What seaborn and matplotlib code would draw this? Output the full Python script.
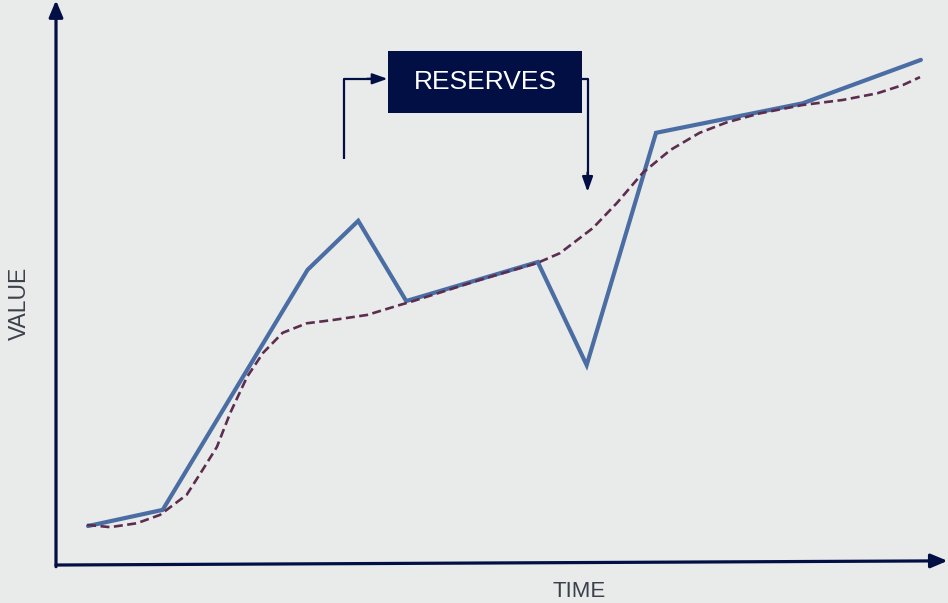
import matplotlib
matplotlib.use("Agg")
import matplotlib.pyplot as plt
import seaborn as sns
import pandas as pd
from matplotlib.patches import Rectangle

# Actual series: time and value readings
actual_time = [3.6, 12.0, 28.3, 34.0, 39.4, 54.2, 59.7, 67.5, 84.0, 97.3]
actual_value = [7.0, 9.9, 53.0, 61.8, 47.4, 54.4, 35.9, 77.6, 82.9, 90.7]

# Smoothed trend
trend_time = [3.5, 6.1, 9.1, 11.7, 14.7, 16.5, 18.1, 19.6, 21.5, 23.3, 25.5, 28.2,
              31.2, 35.0, 38.7, 40.2, 47.7, 54.1, 56.7, 60.4, 63.1, 66.0, 69.1,
              72.4, 75.5, 79.2, 84.0, 88.5, 92.4, 95.3, 97.2]
trend_value = [7.2, 6.8, 7.5, 9.0, 12.6, 17.1, 21.2, 27.3, 33.8, 38.1, 41.7, 43.4,
               44.0, 44.9, 46.7, 47.4, 51.2, 54.2, 56.0, 60.5, 65.0, 70.4, 74.5,
               77.6, 79.5, 81.1, 82.6, 83.5, 84.7, 86.2, 87.6]

x_label = "TIME"
y_label = "VALUE"
box_label = "RESERVES"

BG = "#e9eaea"
NAVY = "#020f45"
BLUE = "#4a6ea4"
PLUM = "#5c2d4f"
TEXT = "#3b414b"

sns.set_style("white", {"axes.facecolor": BG, "figure.facecolor": BG})
plt.rcParams["font.family"] = ["Liberation Sans", "DejaVu Sans"]

fig = plt.figure(figsize=(9.48, 6.03), dpi=100)
ax = fig.add_axes([0, 0, 1, 1])
ax.set_facecolor(BG)

actual = pd.DataFrame({"time": actual_time, "value": actual_value})
trend = pd.DataFrame({"time": trend_time, "value": trend_value})

sns.lineplot(data=trend, x="time", y="value", ax=ax, color=PLUM, lw=1.9,
             dashes=False, linestyle=(0, (3.4, 1.7)), sort=False, zorder=3)
sns.lineplot(data=actual, x="time", y="value", ax=ax, color=BLUE, lw=3.0,
             sort=False, zorder=2, solid_joinstyle="miter")

ax.set_xlim(-6.3, 100.35)
ax.set_ylim(-6.82, 101.45)
for s in ax.spines.values():
    s.set_visible(False)
ax.set_xticks([])
ax.set_yticks([])
ax.set_xlabel("")
ax.set_ylabel("")

# Axes drawn as arrows
arrow_kw = dict(arrowstyle="-|>,head_length=1.0,head_width=0.42", color=NAVY,
                lw=2.3, shrinkA=0, shrinkB=0)
ax.annotate("", xy=(0, 101.4), xytext=(0, -0.3), arrowprops=arrow_kw, zorder=4)
ax.annotate("", xy=(100.3, 0.75), xytext=(0, 0.0), arrowprops=arrow_kw, zorder=4)

ax.text(-4.1, 47.0, y_label, rotation=90, ha="center", va="center",
        fontsize=16.5, color=TEXT)
ax.text(58.9, -4.75, x_label, ha="center", va="center", fontsize=16, color=TEXT)

# Label box with the flow arrows
ax.add_patch(Rectangle((37.3, 81.1), 21.9, 11.2, facecolor=NAVY, edgecolor="none",
                       zorder=5))
ax.text(48.3, 86.7, box_label, ha="center", va="center", fontsize=19,
        color="white", zorder=6)

flow_kw = dict(color=NAVY, lw=1.6, solid_capstyle="butt", zorder=5)
ax.plot([32.4, 32.4, 35.5], [72.9, 87.3, 87.3], **flow_kw)
ax.annotate("", xy=(37.3, 87.3), xytext=(35.0, 87.3), zorder=5,
            arrowprops=dict(arrowstyle="-|>,head_length=0.9,head_width=0.32",
                            color=NAVY, lw=1.6, shrinkA=0, shrinkB=0))
ax.plot([59.2, 59.8, 59.8], [87.3, 87.3, 70.0], **flow_kw)
ax.annotate("", xy=(59.8, 67.0), xytext=(59.8, 70.5), zorder=5,
            arrowprops=dict(arrowstyle="-|>,head_length=0.9,head_width=0.32",
                            color=NAVY, lw=1.6, shrinkA=0, shrinkB=0))

fig.savefig("out.png", dpi=100, facecolor=BG)
